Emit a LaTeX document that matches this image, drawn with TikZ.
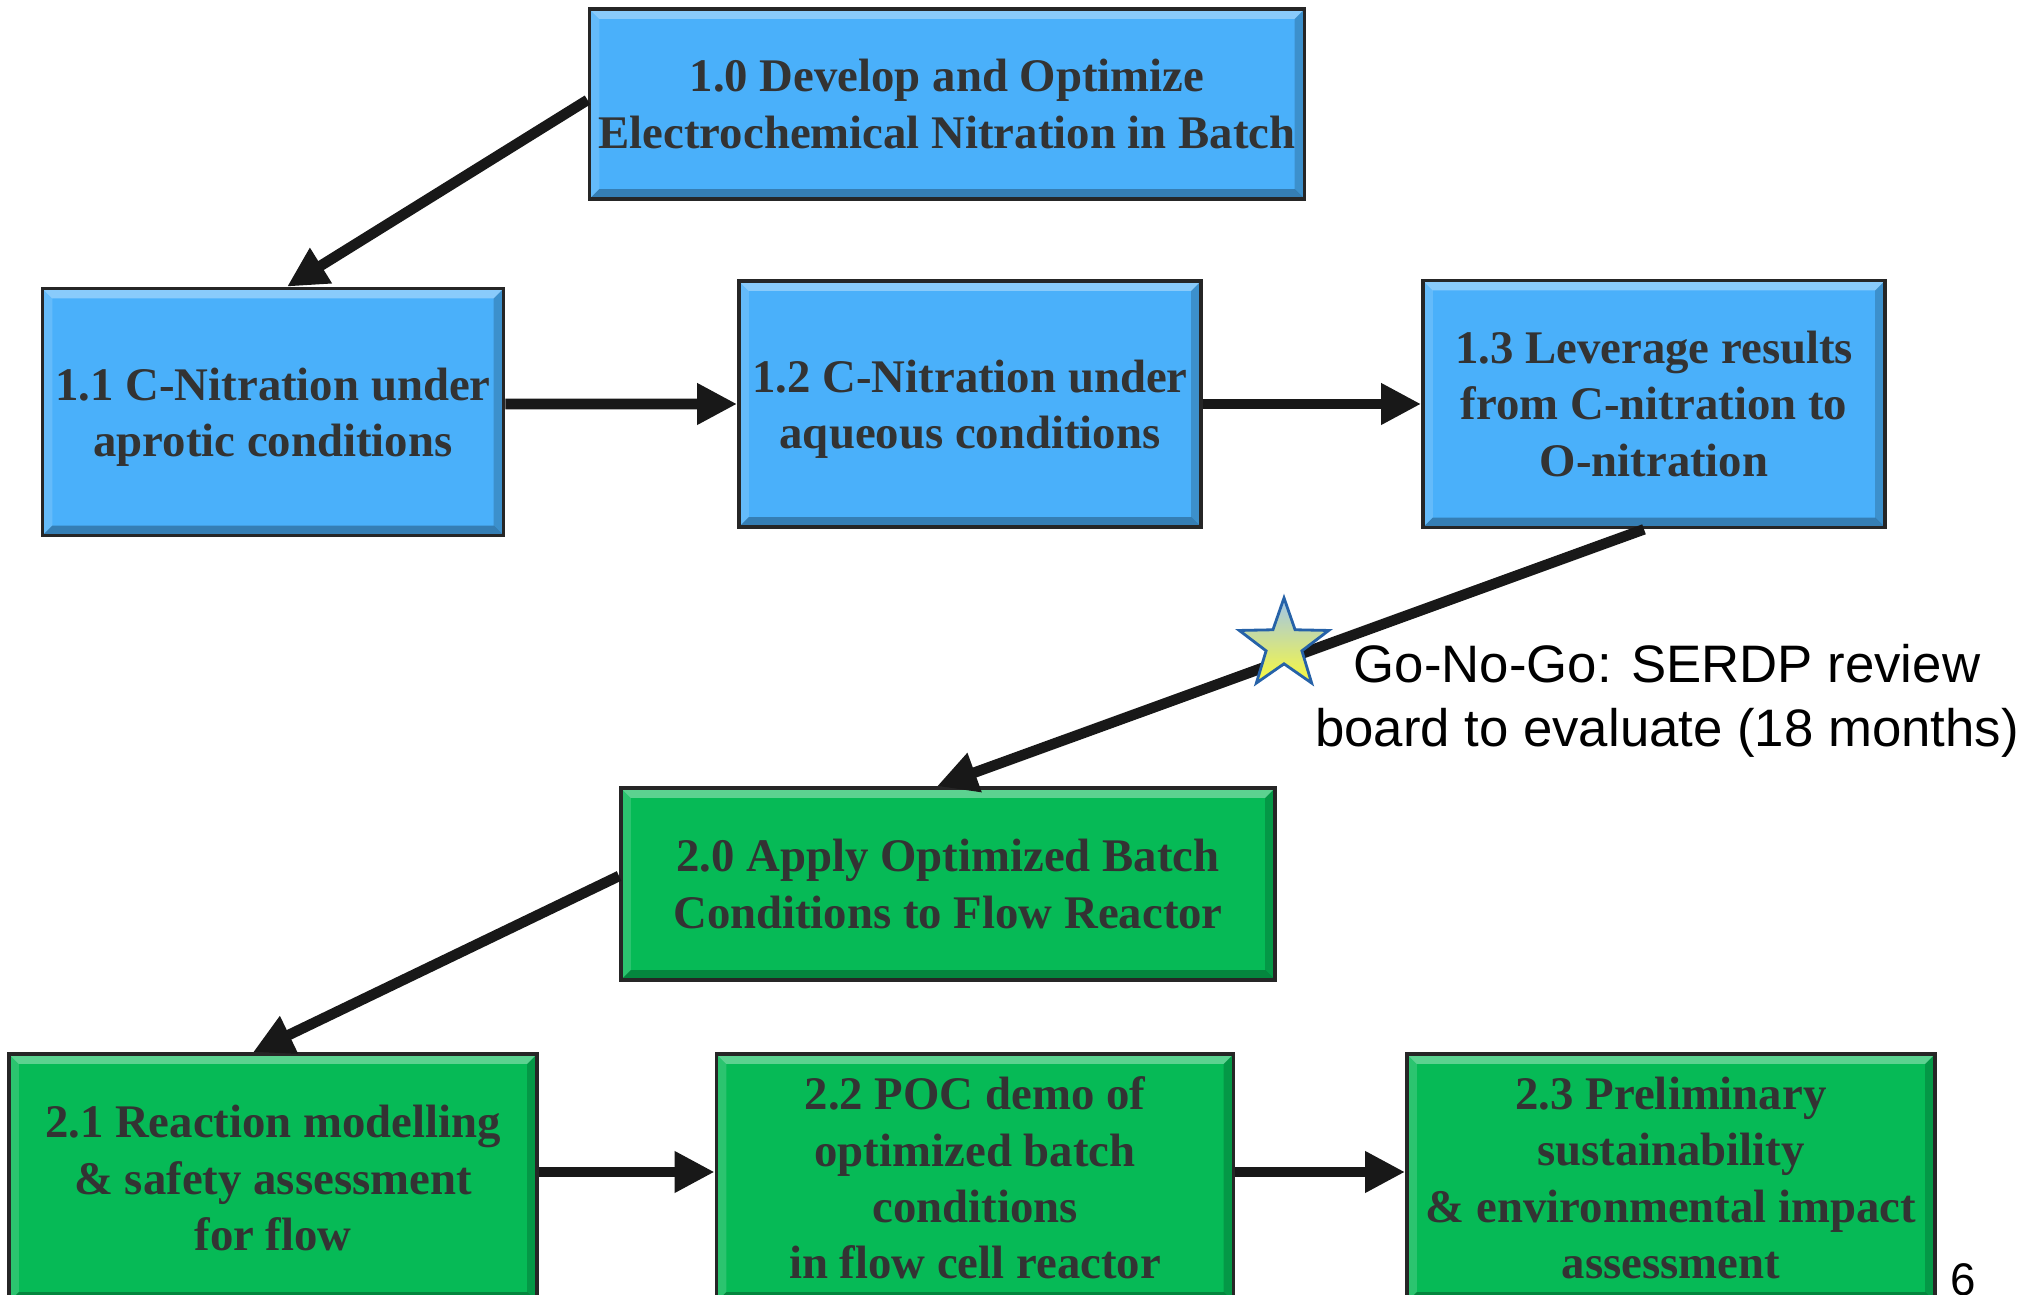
\documentclass[tikz,border=0pt]{standalone}
\usepackage{fontspec}
\setmainfont{Liberation Serif}
\newfontfamily\gngfont{Liberation Sans}
\usepackage{tikz}
\usetikzlibrary{arrows.meta,calc}
\usetikzlibrary{shapes.geometric}

\definecolor{taskblue}{RGB}{74,176,250}
\definecolor{taskgreen}{RGB}{6,186,86}
\definecolor{taskgray}{RGB}{51,51,51}
\definecolor{linkblack}{RGB}{24,24,24}
\definecolor{starblue}{RGB}{38,98,168}
\definecolor{startop}{RGB}{160,196,236}
\definecolor{starbottom}{RGB}{250,250,60}

\tikzset{
  task/.style={draw=black!85, line width=1pt, text=taskgray, align=center, inner sep=0pt,
    font=\fontsize{13.3}{16}\selectfont\bfseries,
    path picture={
      \path (path picture bounding box.north west) coordinate (pnw)
            (path picture bounding box.south east) coordinate (pse);
      \fill[white, opacity=.35] (pnw) -- (pnw -| pse) -- ++(-\bev,-\bev) -- ($(pnw)+(\bev,-\bev)$) -- cycle;
      \fill[white, opacity=.15] (pnw) -- (pse -| pnw) -- ++(\bev,\bev) -- ($(pnw)+(\bev,-\bev)$) -- cycle;
      \fill[black, opacity=.18] (pse) -- (pnw -| pse) -- ++(-\bev,-\bev) -- ($(pse)+(-\bev,\bev)$) -- cycle;
      \fill[black, opacity=.28] (pse) -- (pse -| pnw) -- ++(\bev,\bev) -- ($(pse)+(-\bev,\bev)$) -- cycle;
    }},
  link/.style={->, draw=linkblack, line width=3pt},
}

\begin{document}
\begin{tikzpicture}[x=0.01cm, y=-0.01cm, >={Triangle[length=0.4cm,width=0.39cm]}]

\def\bev{0.1cm}

\useasboundingbox (0,0) rectangle (2030,1295);

\node[task, fill=taskblue, minimum width=7.15cm, minimum height=1.9cm] (t10) at (947,104)
  {1.0 Develop and Optimize\\Electrochemical Nitration in Batch};

\node[task, fill=taskblue, minimum width=4.61cm, minimum height=2.47cm] (t11) at (273,412)
  {1.1 C-Nitration under\\\smash{aprotic conditions}};
\node[task, fill=taskblue, minimum width=4.62cm, minimum height=2.46cm] (t12) at (970,404)
  {1.2 C-Nitration under\\\smash{aqueous conditions}};
\node[task, fill=taskblue, minimum width=4.62cm, minimum height=2.47cm] (t13) at (1654,404)
  {1.3 Leverage results\\from C-nitration to\\O-nitration};

\node[task, fill=taskgreen, minimum width=6.54cm, minimum height=1.92cm] (t20) at (948,884)
  {2.0 Apply Optimized Batch\\Conditions to Flow Reactor};

\node[task, fill=taskgreen, minimum width=5.28cm, minimum height=2.48cm] (t21) at (273,1178)
  {2.1 Reaction modelling\\\& safety assessment\\for flow};
\node[task, fill=taskgreen, minimum width=5.17cm, minimum height=2.48cm] (t22) at (975,1178)
  {2.2 POC demo of\\optimized batch\\conditions\\in flow cell reactor};
\node[task, fill=taskgreen, minimum width=5.28cm, minimum height=2.48cm] (t23) at (1671,1178)
  {2.3 Preliminary\\sustainability\\\& environmental impact\\assessment};

\draw[link] ([yshift=0.04cm]t10.west) -- ([xshift=0.14cm]t11.north);
\draw[link] ([yshift=0.08cm]t11.east) -- (t12.west);
\draw[link] (t12.east) -- (t13.west);
\draw[link] ([xshift=-0.1cm]t13.south) -- ([xshift=-0.11cm]t20.north);
\draw[link] ([yshift=0.08cm]t20.west) -- ([xshift=-0.2cm]t21.north);
\draw[link] ([yshift=0.06cm]t21.east) -- ([yshift=0.06cm]t22.west);
\draw[link] ([yshift=0.06cm]t22.east) -- ([yshift=0.06cm]t23.west);

\node[star, star points=5, star point ratio=2.5, minimum size=0.94cm, inner sep=0pt,
  draw=starblue, line width=0.8pt, top color=startop, bottom color=starbottom] (gng) at (1284,645) {};

\node[font=\gngfont\fontsize{15}{18}\selectfont, align=center] (gngtext) at (1667,701)
  {Go-No-Go: SERDP review\\board to evaluate (18 months)};

\node[font=\gngfont\fontsize{13}{15}\selectfont, anchor=north, inner sep=0pt] (pagenum) at (1963,1263) {6};

\end{tikzpicture}
\end{document}
